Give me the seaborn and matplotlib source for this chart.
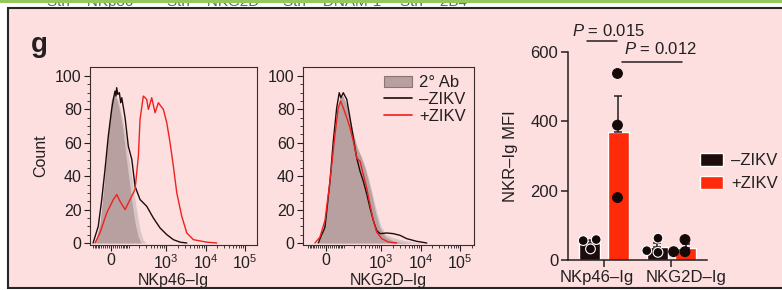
import numpy as np
import pandas as pd
import seaborn as sns
import matplotlib.pyplot as plt
import matplotlib.transforms as mtransforms
from matplotlib.patches import Rectangle, Patch
from matplotlib.lines import Line2D

# NKp46-Ig histograms (fluorescence intensity, count)
nkp46_ab_neg_x = [-87, -56, -34, -14, 0, 14, 29, 44.5, 61, 80, 101.5, 126, 154, 187, 226]
nkp46_ab_neg_y = [0, 12, 35, 65, 85, 90, 86, 78, 68, 52, 38, 24, 12, 4, 0]
nkp46_ab_pos_x = [-74, -44, -24, -4.7, 9.5, 24, 39, 55.6, 74, 94, 118, 144, 176, 212, 255, 306]
nkp46_ab_pos_y = [0, 15, 40, 70, 84, 88, 84, 76, 66, 54, 42, 30, 18, 8, 2, 0]
nkp46_neg_x = [-101, -66, -46, -29, -13, 3, 9.5, 19, 24, 27, 33, 41, 48, 54, 74, 96, 124, 154,
               212, 319, 473, 703, 1041, 1530, 2262, 3343]
nkp46_neg_y = [0, 10, 26, 44, 64, 80, 85, 91, 88, 93, 89, 90, 84, 87, 75, 58, 50, 34,
               26, 22, 15, 9, 5, 2, 0.5, 0]
nkp46_pos_x = [-87, -56, -20.5, 10.9, 27.4, 44.5, 74, 109, 154, 191, 212, 260, 319, 352, 430,
               524, 636, 853, 1041, 1262, 1530, 1866, 2496, 3343, 4916, 10730, 19230]
nkp46_pos_y = [0, 6, 18, 26, 29, 25, 20, 26, 32, 52, 74, 88, 86, 80, 87,
               78, 84, 80, 72, 60, 46, 30, 16, 6, 2, 0.5, 0]

# NKG2D-Ig histograms
nkg2d_ab_neg_x = [-39, -19, 0, 19, 39, 55.6, 74, 94, 126, 154, 199, 240, 306, 389, 465, 589,
                  745, 942, 1262, 1897, 3030, 5428]
nkg2d_ab_neg_y = [0, 5, 18, 38, 64, 80, 88, 88, 82, 74, 64, 57, 52, 45, 38, 28,
                  17, 9, 4, 1.5, 0.5, 0]
nkg2d_ab_pos_x = [-29, -9.5, 9.5, 29, 50, 67.5, 87, 109, 144, 187, 240, 306, 389, 493, 625, 790,
                  999, 1340, 2136, 3824, 6850, 12280]
nkg2d_ab_pos_y = [0, 6, 22, 45, 70, 84, 87, 84, 76, 66, 58, 52, 46, 38, 28, 18,
                  10, 5, 3, 1.5, 0.5, 0]
nkg2d_neg_x = [-37.6, -4.7, 19, 35.5, 54, 69, 80, 96, 124, 154, 191, 236, 289, 352, 430, 524,
               636, 776, 942, 1395, 2048, 3030, 4477, 8025, 14380]
nkg2d_neg_y = [0, 9.5, 37, 61, 81, 90, 87, 90, 86, 75, 63, 51, 43, 37, 29.5, 21,
               13.5, 7.5, 5.6, 6, 5.6, 4.6, 2.6, 1, 0]
nkg2d_pos_x = [-55.6, -29, -4.7, 19, 44.5, 63, 78, 96, 124, 154, 191, 236, 289, 352, 430, 524,
               636, 776, 1041, 1530, 2496]
nkg2d_pos_y = [0, 3.6, 13.5, 37, 65, 81, 85, 81, 75, 69, 61, 51, 49, 41, 33, 23,
               13.5, 6.5, 2.6, 0.6, 0]

# NKR-Ig MFI per replicate
receptors = ['NKp46–Ig', 'NKG2D–Ig']
conditions = ['–ZIKV', '+ZIKV']
nkp46_neg_mfi = [59, 56, 32]
nkp46_pos_mfi = [538, 389, 180]
nkg2d_neg_mfi = [63, 27, 22]
nkg2d_pos_mfi = [59, 24, 24]

INK = '#231f20'
PINK = '#fddfe0'
BLACK = '#1e0c0c'
RED = '#fe2a0a'
LINE_RED = '#f0201e'
GREY_DARK = '#b8a0a0'
GREY_LIGHT = '#d8c6c6'

sns.set_style('ticks')
plt.rcParams['font.family'] = ['Liberation Sans', 'DejaVu Sans']
plt.rcParams['mathtext.fontset'] = 'custom'
plt.rcParams['mathtext.rm'] = 'Liberation Sans'
plt.rcParams['mathtext.it'] = 'Liberation Sans:italic'
for k in ['text.color', 'axes.labelcolor', 'xtick.color', 'ytick.color', 'axes.edgecolor']:
    plt.rcParams[k] = INK

fig = plt.figure(figsize=(7.82, 2.90), dpi=100)
W, H = 782, 290

# page decorations: green rule, clipped captions of the panel above, pink panel box
for x, s in [(47, 'Stn    NKp80'), (167, 'Stn    NKG2D'), (283, 'Stn    DNAM-1'), (400, 'Stn    2B4')]:
    fig.text(x / W, 1 - 6 / H, s, fontsize=11, color='#666666', va='baseline', zorder=-3)
fig.add_artist(Rectangle((0, 1 - 2.6 / H), 1, 2.6 / H, transform=fig.transFigure,
                         facecolor='#93c95c', edgecolor='none', zorder=-2))
fig.add_artist(Rectangle((7.5 / W, 2.5 / H), 1.0, 279.5 / H,
                         transform=fig.transFigure, facecolor=PINK, edgecolor='#262626',
                         linewidth=1.5, zorder=-1))
fig.text(31 / W, 1 - 52 / H, 'g', fontsize=20, fontweight='heavy', va='baseline', ha='left')

A = 81.0


def fwd(x):
    return np.arcsinh(np.asarray(x) / A)


def inv(y):
    return A * np.sinh(np.asarray(y))


minor_x = ([-100] + list(range(-90, 0, 10)) + list(range(10, 100, 10)) + list(range(100, 1000, 100))
           + list(range(2000, 10000, 1000)) + list(range(20000, 100000, 10000)) + [200000])


def draw_hist(ax, ab_neg, ab_pos, neg, pos, xlabel, xmin, xmax):
    ax.set_facecolor('none')
    ax.fill_between(ab_pos[0], ab_pos[1], color=GREY_LIGHT, lw=0)
    ax.fill_between(ab_neg[0], ab_neg[1], color=GREY_DARK, lw=0)
    sns.lineplot(x=neg[0], y=neg[1], color=BLACK, lw=1.0, sort=False, estimator=None, ax=ax)
    sns.lineplot(x=pos[0], y=pos[1], color=LINE_RED, lw=1.0, sort=False, estimator=None, ax=ax)
    ax.set_xscale('function', functions=(fwd, inv))
    ax.set_xlim(xmin, xmax)
    ax.set_ylim(-1.2, 105.4)
    ax.set_xticks([0, 1e3, 1e4, 1e5], ['0', '$10^3$', '$10^4$', '$10^5$'])
    ax.set_xticks([m for m in minor_x if xmin < m < xmax], minor=True)
    ax.set_yticks(range(0, 101, 20))
    ax.set_yticks(range(0, 101, 5), minor=True)
    ax.tick_params(which='major', direction='out', length=4, width=0.8, labelsize=11.5, pad=2)
    ax.tick_params(which='minor', direction='out', length=2, width=0.6)
    for sp in ax.spines.values():
        sp.set_linewidth(0.8)
        sp.set_color('#3a2a2a')
    ax.set_xlabel(xlabel, fontsize=11.5, labelpad=1)
    ax.set_ylabel('')


ax1 = fig.add_axes([90 / W, 1 - 245 / H, 167 / W, 178 / H])
draw_hist(ax1, (nkp46_ab_neg_x, nkp46_ab_neg_y), (nkp46_ab_pos_x, nkp46_ab_pos_y),
          (nkp46_neg_x, nkp46_neg_y), (nkp46_pos_x, nkp46_pos_y), 'NKp46–Ig', -126, 2.0e5)
ax1.set_ylabel('Count', fontsize=11.5, labelpad=5)

ax2 = fig.add_axes([303 / W, 1 - 245 / H, 171 / W, 178 / H])
draw_hist(ax2, (nkg2d_ab_neg_x, nkg2d_ab_neg_y), (nkg2d_ab_pos_x, nkg2d_ab_pos_y),
          (nkg2d_neg_x, nkg2d_neg_y), (nkg2d_pos_x, nkg2d_pos_y), 'NKG2D–Ig', -144, 2.26e5)
hist_handles = [Patch(facecolor=GREY_DARK, edgecolor='#8c7474', linewidth=0.8),
                Line2D([], [], color=BLACK, lw=1.2), Line2D([], [], color=LINE_RED, lw=1.2)]
ax2.legend(hist_handles, ['2° Ab', '–ZIKV', '+ZIKV'], loc='upper right', frameon=False,
           fontsize=12, handlelength=1.7, handleheight=0.7, handletextpad=0.4, labelspacing=0.1,
           borderpad=0.2, borderaxespad=0.3)

# bar chart of MFI
mfi = pd.DataFrame({
    'receptor': [receptors[0]] * 6 + [receptors[1]] * 6,
    'condition': [conditions[0]] * 3 + [conditions[1]] * 3 + [conditions[0]] * 3 + [conditions[1]] * 3,
    'value': nkp46_neg_mfi + nkp46_pos_mfi + nkg2d_neg_mfi + nkg2d_pos_mfi,
})
ax3 = fig.add_axes([568 / W, 1 - 260 / H, 139 / W, 208 / H])
ax3.set_facecolor('none')
sns.barplot(data=mfi, x='receptor', y='value', hue='condition', order=receptors,
            hue_order=conditions, palette={conditions[0]: BLACK, conditions[1]: RED},
            errorbar=None, width=0.84, gap=0.25, saturation=1, legend=False, ax=ax3)
sns.swarmplot(data=mfi, x='receptor', y='value', hue='condition', order=receptors,
              hue_order=conditions, palette={c: '#140808' for c in conditions}, dodge=True,
              size=7, edgecolor='white', linewidth=0.8, legend=False, ax=ax3)
for coll in ax3.collections:
    offs = coll.get_offsets()
    if len(offs) and np.mean(offs[:, 0]) - np.round(np.mean(offs[:, 0])) > 0:
        coll.set_edgecolor('#140808')
    coll.set_zorder(3)

bars = sorted(ax3.patches, key=lambda p: p.get_x())
groups = [nkp46_neg_mfi, nkp46_pos_mfi, nkg2d_neg_mfi, nkg2d_pos_mfi]
for p, vals in zip(bars, groups):
    vals = np.array(vals, dtype=float)
    sem = vals.std(ddof=1) / np.sqrt(len(vals))
    ax3.errorbar(p.get_x() + p.get_width() / 2, vals.mean(), yerr=[[0], [sem]], fmt='none',
                 ecolor=INK, elinewidth=1.1, capsize=3, capthick=1.1, zorder=2)

ax3.set_xlim(-0.533, 1.526)
ax3.set_ylim(0, 600)
ax3.set_yticks([0, 200, 400, 600])
sns.despine(ax=ax3)
ax3.spines['left'].set_linewidth(1.1)
ax3.spines['bottom'].set_linewidth(1.1)
ax3.tick_params(direction='out', length=5, width=1.1, labelsize=12, pad=2)
ax3.set_xlabel('')
ax3.set_ylabel('NKR–Ig MFI', fontsize=12, labelpad=9)
# the category labels sit slightly off their ticks in the original
for lab, dx in zip(ax3.get_xticklabels(), [-7.5, 15]):
    lab.set_transform(lab.get_transform() + mtransforms.ScaledTranslation(dx / 100, 0, fig.dpi_scale_trans))

# significance annotations
ax3.plot([-0.252, 0.193], [632, 632], color=INK, lw=1.1, clip_on=False)
ax3.text(0.06, 647, '$P$ = 0.015', ha='center', va='baseline', fontsize=12, clip_on=False)
ax3.plot([0.267, 1.156], [571, 571], color=INK, lw=1.1, clip_on=False)
ax3.text(0.83, 593, '$P$ = 0.012', ha='center', va='baseline', fontsize=12, clip_on=False)

bar_handles = [Patch(facecolor=BLACK), Patch(facecolor=RED)]
fig.legend(bar_handles, conditions, loc='upper left', bbox_to_anchor=(700 / W, 1 - 153 / H),
           frameon=False, fontsize=12, handlelength=1.4, handleheight=0.85, handletextpad=0.45,
           labelspacing=0.45, borderpad=0, borderaxespad=0)

fig.savefig('out.png', dpi=100)
